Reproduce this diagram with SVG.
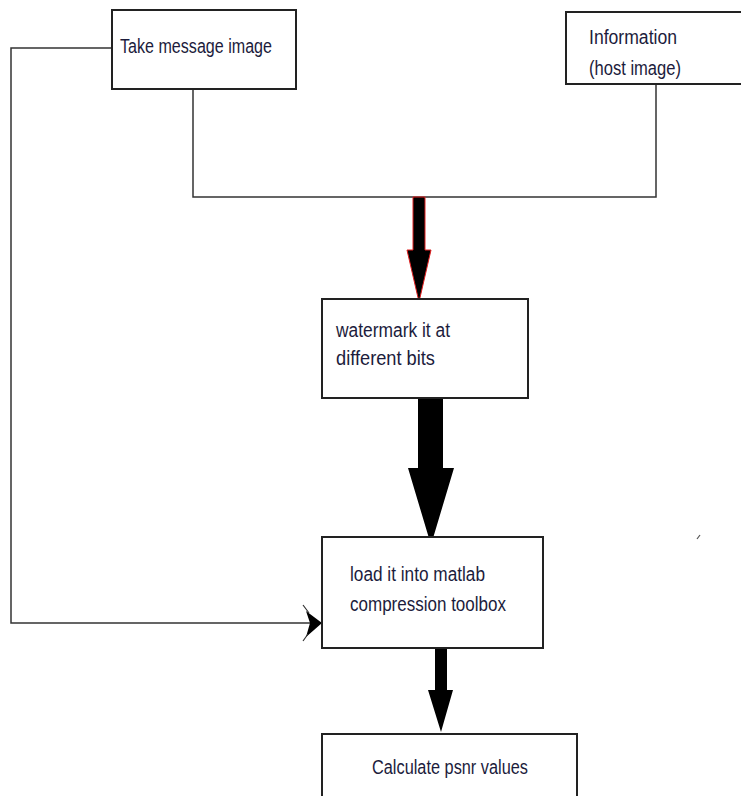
<svg xmlns="http://www.w3.org/2000/svg" width="741" height="796" viewBox="0 0 741 796">
<style>
.box{fill:#fff;stroke:#222;stroke-width:2}
.ln{fill:none;stroke:#333;stroke-width:1.5}
.t{font-family:"Liberation Sans",Arial,sans-serif;font-size:20px;fill:#1c1c3c}
.ah{fill:#000}
</style>
<rect width="741" height="796" fill="#fff"/>
<g id="connectors">
<path class="ln" d="M112 48 H11 V623 H318"/>
<path class="ln" d="M193 89 V197 H656 V84"/>
<polygon class="ah" points="306,611 322,623 306,637 310,623"/>
<path d="M303 605 L309 613 M303 641 L308 634" stroke="#333" stroke-width="1.2"/>
<polygon points="413,197 425,197 425,250 431,250 419,302 407,250 413,250" fill="#000" stroke="#e02020" stroke-width="1"/>
<polygon class="ah" points="418,394 443,394 443,468 454,468 431,545 408,468 418,468"/>
<polygon class="ah" points="435,648 447,648 447,690 453,690 441,732 428,690 435,690"/>
<path d="M697 539 L700 535" stroke="#555" stroke-width="1.2"/>
</g>
<g id="n1">
<rect class="box" x="112" y="10" width="184" height="79"/>
<text class="t" x="120" y="53" textLength="152" lengthAdjust="spacingAndGlyphs">Take message image</text>
</g>
<g id="n2">
<rect class="box" x="566" y="12" width="180" height="72"/>
<text class="t" x="589" y="44" textLength="88" lengthAdjust="spacingAndGlyphs">Information</text>
<text class="t" x="589" y="75" textLength="92" lengthAdjust="spacingAndGlyphs">(host image)</text>
</g>
<g id="n3">
<rect class="box" x="322" y="299" width="206" height="99"/>
<text class="t" x="336" y="337" textLength="114" lengthAdjust="spacingAndGlyphs">watermark it at</text>
<text class="t" x="336" y="365" textLength="99" lengthAdjust="spacingAndGlyphs">different bits</text>
</g>
<g id="n4">
<rect class="box" x="322" y="537" width="221" height="111"/>
<text class="t" x="350" y="581" textLength="135" lengthAdjust="spacingAndGlyphs">load it into matlab</text>
<text class="t" x="350" y="611" textLength="156" lengthAdjust="spacingAndGlyphs">compression toolbox</text>
</g>
<g id="n5">
<rect class="box" x="322" y="734" width="255" height="80"/>
<text class="t" x="372" y="774" textLength="156" lengthAdjust="spacingAndGlyphs">Calculate psnr values</text>
</g>
</svg>
